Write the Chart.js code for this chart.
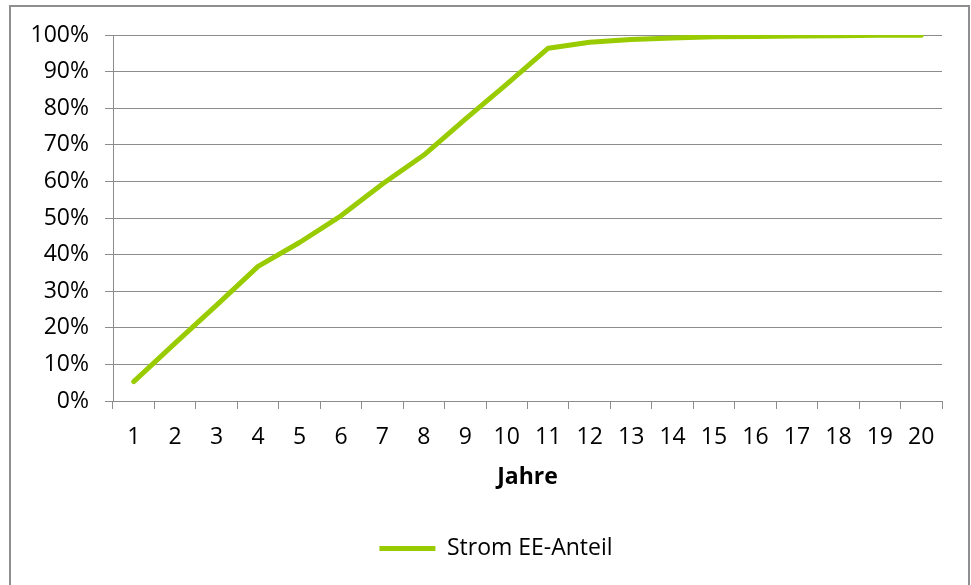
<!DOCTYPE html>
<html lang="de">
<head>
<meta charset="utf-8">
<title>Strom EE-Anteil</title>
<script src="https://cdn.jsdelivr.net/npm/chart.js@4/dist/chart.umd.min.js"></script>
<style>
  html, body { margin: 0; padding: 0; background: #ffffff; }
  #wrap { position: relative; width: 971px; height: 585px; overflow: hidden; }
  #frame {
    position: absolute; left: 9px; top: 5px; width: 961px; height: 640px;
    box-sizing: border-box; border: 2px solid #8e8e8e; pointer-events: none;
  }
  canvas { position: absolute; left: 0; top: 0; }
</style>
</head>
<body>
<div id="wrap">
  <canvas id="chart" width="971" height="585"></canvas>
  <div id="frame"></div>
</div>
<script>
// Years on the x axis
const years = ['1','2','3','4','5','6','7','8','9','10','11','12','13','14','15','16','17','18','19','20'];
// Share of renewable electricity per year, in percent
const eeShare = [5.3, 15.8, 26.2, 36.8, 43.3, 50.6, 59.3, 67.2, 77.0, 86.6, 96.4, 98.0, 98.8, 99.2, 99.5, 99.6, 99.7, 99.8, 99.9, 99.9];
// Value axis range and step (percent)
const yMin = 0, yMax = 100, yStep = 10;

const seriesName = 'Strom EE-Anteil';
const axisTitle = 'Jahre';

const FONT = "'Open Sans', 'Noto Sans', sans-serif";
const FONT_SIZE = 23;
const GRID = '#8c8c8c';
const GREEN = '#99cc00';

// Nudges the legend block to the right of the centred spot Chart.js picks
const legendShift = {
  id: 'legendShift',
  afterLayout(chart) {
    const lg = chart.legend;
    if (lg) { lg.left += 25; lg.right += 25; }
  }
};

new Chart(document.getElementById('chart'), {
  type: 'line',
  data: {
    labels: years,
    datasets: [{
      label: seriesName,
      data: eeShare,
      borderColor: GREEN,
      backgroundColor: GREEN,
      borderWidth: 5,
      borderCapStyle: 'round',
      borderJoinStyle: 'round',
      tension: 0,
      pointRadius: 0,
      pointHoverRadius: 0,
      pointStyle: 'line',
      fill: false
    }]
  },
  plugins: [legendShift],
  options: {
    responsive: false,
    animation: false,
    devicePixelRatio: 1,
    layout: { padding: { top: 35, right: 29, left: 0, bottom: 15 } },
    plugins: {
      tooltip: { enabled: false },
      legend: {
        position: 'bottom',
        labels: {
          usePointStyle: true,
          pointStyle: 'line',
          pointStyleWidth: 56,
          padding: 10,
          color: '#000',
          font: { family: FONT, size: FONT_SIZE }
        }
      }
    },
    scales: {
      x: {
        type: 'category',
        offset: true,
        grid: {
          offset: true,
          drawOnChartArea: false,
          drawTicks: true,
          tickLength: 8,
          color: GRID,
          lineWidth: 1
        },
        border: { color: GRID, width: 1 },
        ticks: {
          color: '#000',
          padding: 15,
          maxRotation: 0,
          autoSkip: false,
          font: { family: FONT, size: FONT_SIZE }
        },
        title: {
          display: true,
          text: axisTitle,
          color: '#000',
          font: { family: FONT, size: FONT_SIZE, weight: 'bold' },
          padding: { top: 4, bottom: 36 }
        },
        afterFit(scale) { scale.height = 126; }
      },
      y: {
        min: yMin,
        max: yMax,
        grid: {
          color: GRID,
          lineWidth: 1,
          drawTicks: true,
          tickLength: 8
        },
        border: { color: GRID, width: 1 },
        ticks: {
          stepSize: yStep,
          color: '#000',
          padding: 16,
          font: { family: FONT, size: FONT_SIZE },
          callback: (v) => v + '%'
        },
        afterFit(scale) { scale.width = 113; }
      }
    }
  }
});
</script>
</body>
</html>
